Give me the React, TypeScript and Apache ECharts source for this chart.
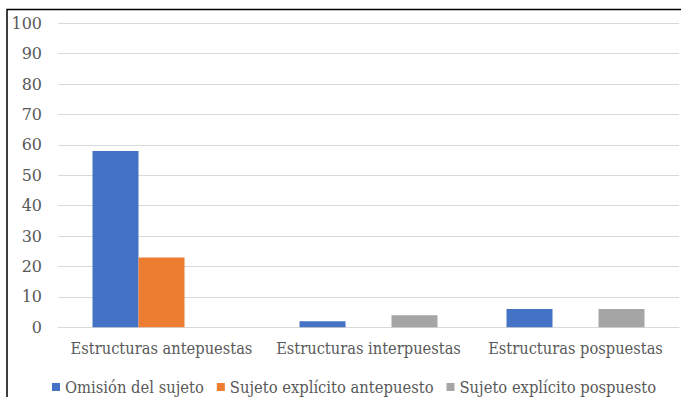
import React, { useEffect, useRef } from "react";
import * as echarts from "echarts";

const categories = ["Estructuras antepuestas", "Estructuras interpuestas", "Estructuras pospuestas"];
const seriesNames = ["Omisión del sujeto", "Sujeto explícito antepuesto", "Sujeto explícito pospuesto"];
const omision = [58, 2, 6];
const explicitoAnte = [23, 0, 0];
const explicitoPos = [0, 4, 6];
const colors = ["#4472C4", "#ED7D31", "#A5A5A5"];

const FONT = "'DejaVu Serif Condensed', 'DejaVu Serif', serif";
const NUM_FONT = "'DejaVu Serif', serif";

export default function App() {
  const ref = useRef<HTMLDivElement>(null);
  useEffect(() => {
    const chart = echarts.init(ref.current!, null, { renderer: "svg" });
    const data = [omision, explicitoAnte, explicitoPos];
    chart.setOption({
      animation: false,
      textStyle: { fontFamily: FONT },
      graphic: [
        {
          type: "rect",
          shape: { x: 7, y: 9.5, width: 720, height: 420 },
          style: { fill: "none", stroke: "#000", lineWidth: 1.5 },
          silent: true,
        },
      ],
      grid: { left: 58, right: 2, top: 23.3, bottom: 69.7, containLabel: false },
      legend: {
        data: seriesNames,
        top: 374,
        left: 47,
        itemWidth: 8,
        itemHeight: 8,
        itemGap: 13,
        icon: "rect",
        textStyle: { color: "#595959", fontSize: 16.4, fontFamily: FONT },
      },
      xAxis: {
        type: "category",
        data: categories,
        axisLine: { lineStyle: { color: "#D9D9D9" } },
        axisTick: { show: false },
        axisLabel: { color: "#595959", fontSize: 16.3, fontFamily: FONT, margin: 13, interval: 0 },
      },
      yAxis: {
        type: "value",
        min: 0,
        max: 100,
        interval: 10,
        axisLine: { show: false },
        axisTick: { show: false },
        splitLine: { lineStyle: { color: "#D9D9D9", width: 1 } },
        axisLabel: { color: "#595959", fontSize: 16, fontFamily: NUM_FONT, margin: 16 },
      },
      series: seriesNames.map((name, i) => ({
        name,
        type: "bar",
        data: data[i],
        barWidth: 46,
        barGap: "0%",
        itemStyle: { color: colors[i] },
      })),
    });
    return () => chart.dispose();
  }, []);
  return (
    <div
      ref={ref}
      style={{ position: "fixed", left: 0, top: 0, width: 681, height: 397, background: "#fff" }}
    />
  );
}
